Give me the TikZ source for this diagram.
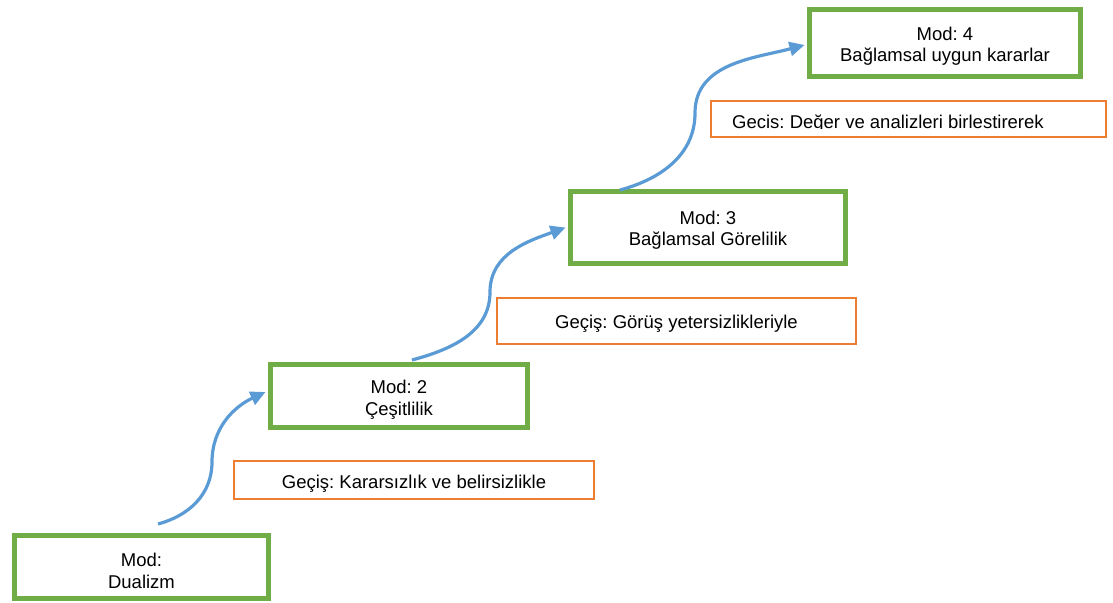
\documentclass[tikz,border=0pt]{standalone}
\usepackage{fontspec}
\setmainfont{Liberation Sans}
\usetikzlibrary{arrows.meta,calc}
\definecolor{modgreen}{HTML}{70AD47}
\definecolor{gorange}{HTML}{ED7D31}
\definecolor{abblue}{HTML}{5B9BD5}
\frenchspacing
\tikzset{
  modbox/.style={draw=modgreen, line width=5pt, fill=white, inner sep=0pt},
  modtext/.style={align=center, inner sep=0pt, font=\fontsize{18.5}{21.5}\selectfont},
  gecbox/.style={draw=gorange, line width=2pt, fill=white, inner sep=0pt},
  gectext/.style={inner sep=0pt, font=\fontsize{18.5}{21}\selectfont},
  steparrow/.style={draw=abblue, line width=3.2pt, -{Triangle[length=15pt,width=14pt]}},
}
\begin{document}
\begin{tikzpicture}[x=1pt,y=-1pt]
\useasboundingbox (0,0) rectangle (1113,602);
% green mode boxes
\node[modbox, minimum width=254pt, minimum height=63pt] (b1) at (141.5,567) {};
\node[modbox, minimum width=257pt, minimum height=63pt] (b2) at (399,396) {};
\node[modbox, minimum width=275pt, minimum height=72pt] (b3) at (708,227.5) {};
\node[modbox, minimum width=271pt, minimum height=67pt] (b4) at (945,43) {};
\node[modtext] (t1) at ([yshift=-4pt]b1.center) {Mod:\\Dualizm};
\node[modtext] (t2) at ([yshift=-4pt]b2.center) {Mod: 2\\Çeşitlilik};
\node[modtext] (t3) at ([yshift=-2.5pt]b3.center) {Mod: 3\\Bağlamsal Görelilik};
\node[modtext] (t4) at ([yshift=-3pt]b4.center) {Mod: 4\\Bağlamsal uygun kararlar};
% orange transition boxes
\node[gecbox, minimum width=360pt, minimum height=38pt] (g1) at (414,480) {};
\node[gecbox, minimum width=359pt, minimum height=46pt] (g2) at (676.5,321) {};
\node[gecbox, minimum width=395pt, minimum height=36pt] (g3) at (908.5,119) {};
\node[gectext] (gt1) at ([yshift=-4pt]g1.center) {Geçiş: Kararsızlık ve belirsizlikle};
\node[gectext] (gt2) at ([yshift=-2.5pt]g2.center) {Geçiş: Görüş yetersizlikleriyle};
\begin{scope}
  \clip (712,102) rectangle (1105,128);
  \node[gectext, anchor=base west] (gt3) at (732,128) {Gecis: Değer ve analizleri birlestirerek};
\end{scope}
% arrows
\coordinate (s1) at (158,524);
\coordinate (m1) at (212,462);
\coordinate (s2) at (412,360);
\coordinate (m2) at (490,292);
\coordinate (s3) at (620,190);
\coordinate (m3) at (695,113);
\draw[steparrow] (s1) to[out=15,in=-90] (m1) to[out=90,in=205] ([xshift=-2.5pt,yshift=4pt]b2.west);
\draw[steparrow] (s2) to[out=15,in=-90] (m2) to[out=90,in=200] ([xshift=-2.5pt,yshift=0pt]b3.west);
\draw[steparrow] (s3) to[out=15,in=-90] (m3) to[out=90,in=195] ([xshift=-2.5pt,yshift=-2pt]b4.west);
\end{tikzpicture}
\end{document}
